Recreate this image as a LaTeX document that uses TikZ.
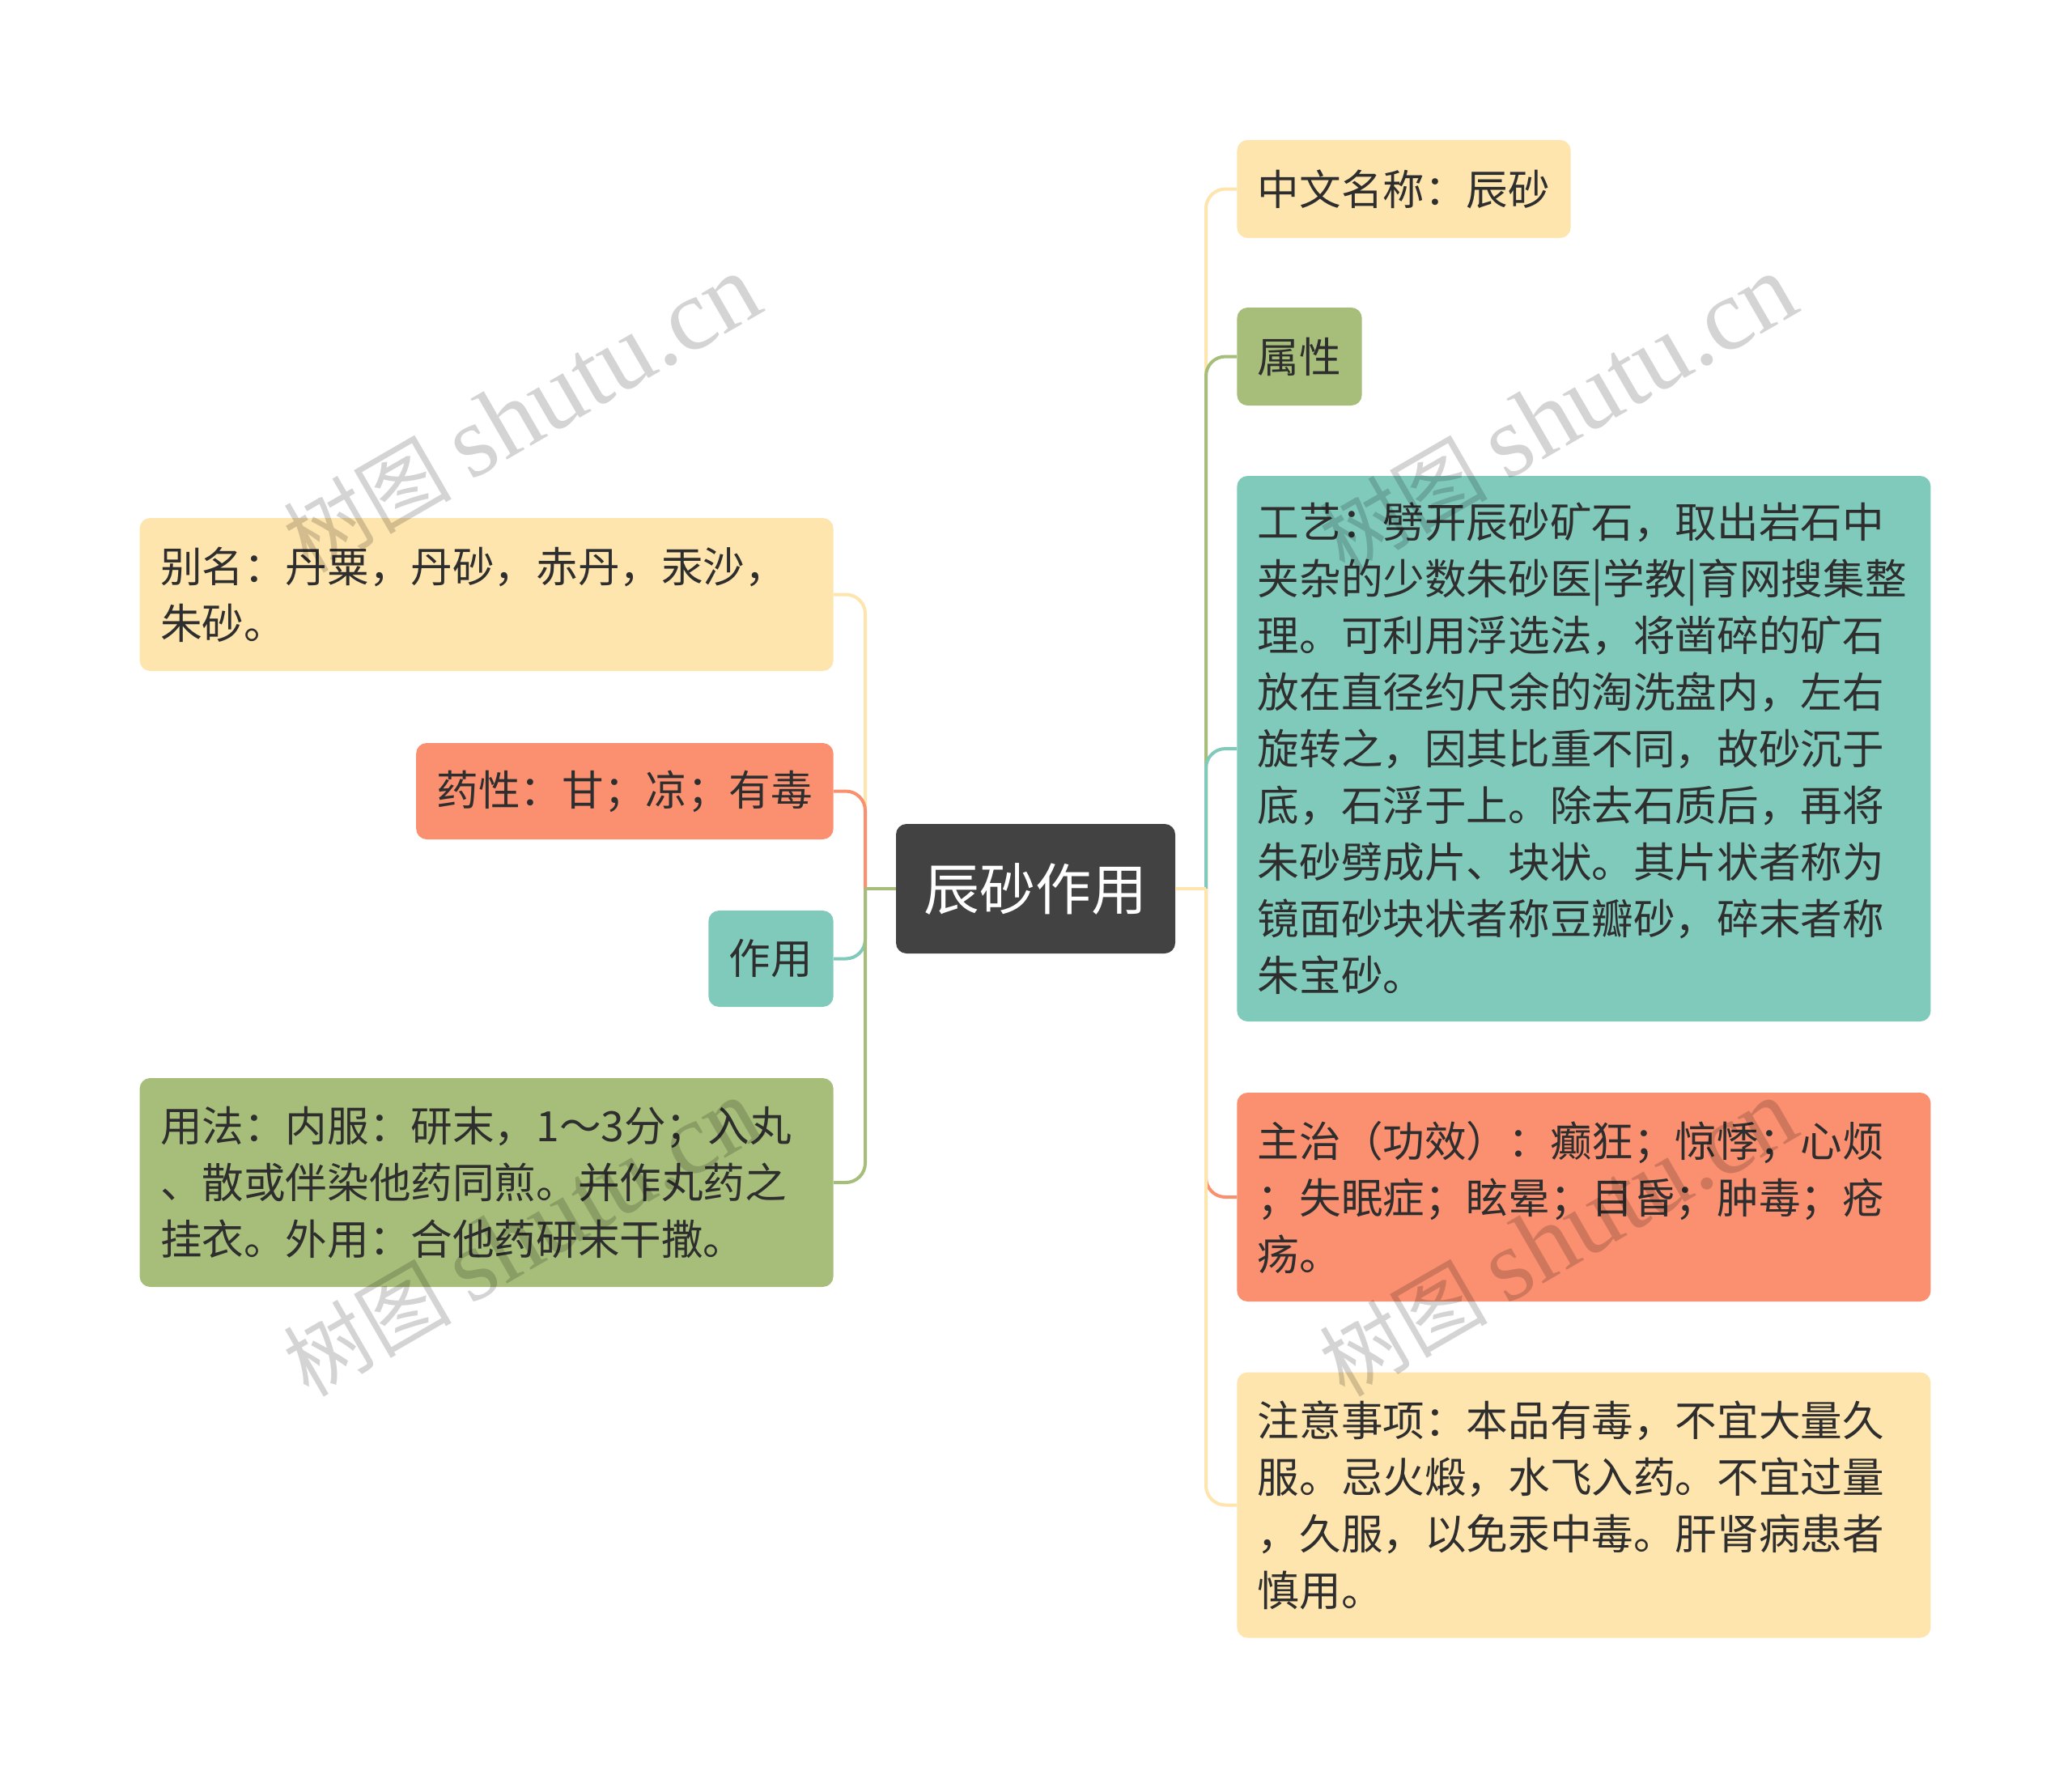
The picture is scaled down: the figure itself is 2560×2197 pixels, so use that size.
\documentclass[tikz,border=0pt]{standalone}
\usepackage{fontspec}
\setmainfont{Noto Sans CJK SC}
\newfontfamily\wmserif{Liberation Serif}
\definecolor{yel}{HTML}{FEE4AD}
\definecolor{grn}{HTML}{A6BE7A}
\definecolor{tea}{HTML}{80CABC}
\definecolor{org}{HTML}{FA9070}
\definecolor{rootc}{HTML}{424242}
\definecolor{txt}{HTML}{2E2E2E}
\begin{document}
\begin{tikzpicture}[x=0.5pt,y=-0.5pt,
  box/.style={rounded corners=6.5pt, inner xsep=12.75pt, inner ysep=0pt, text=txt, font=\fontsize{25.8}{35}\selectfont},
  wide/.style={box, text width=403pt, align=left},
  conn/.style={line width=2pt, rounded corners=12pt},
  stem/.style={line width=2pt},
  wm/.style={rotate=30, text=black, text opacity=0.17, inner sep=0pt}
]
\useasboundingbox (0,0) rectangle (2560,2197);
\fill[white] (0,0) rectangle (2560,2197);

% root
\node[fill=rootc, rounded corners=6.5pt, minimum width=172.5pt, minimum height=80pt, inner sep=0pt, text=white, font=\fontsize{34.5}{40}\selectfont] (root) at (1279.5,1098) {辰砂作用};

% right children
\node[box, fill=yel, anchor=west, minimum height=60.5pt] (n1) at (1528,233.5) {中文名称：辰砂};
\node[box, fill=grn, anchor=west, minimum height=60.5pt] (n2) at (1528,440.5) {属性};
\node[wide, fill=tea, anchor=west, minimum height=337pt] (n3) at (1528,925) {工艺：劈开辰砂矿石，取出岩石中\\夹杂的少数朱砂医|学教|育网搜集整\\理。可利用浮选法，将凿碎的矿石\\放在直径约尺余的淘洗盘内，左右\\旋转之，因其比重不同，故砂沉于\\底，石浮于上。除去石质后，再将\\朱砂劈成片、块状。其片状者称为\\镜面砂块状者称豆瓣砂，碎末者称\\朱宝砂。};
\node[wide, fill=org, anchor=west, minimum height=129pt] (n4) at (1528,1479) {主治（功效）：癫狂；惊悸；心烦\\；失眠症；眩晕；目昏；肿毒；疮\\疡。};
\node[wide, fill=yel, anchor=west, minimum height=164pt] (n5) at (1528,1859.5) {注意事项：本品有毒，不宜大量久\\服。忌火煅，水飞入药。不宜过量\\，久服，以免汞中毒。肝肾病患者\\慎用。};

% left children
\node[wide, fill=yel, anchor=east, minimum height=94.5pt] (l1) at (1030,734.5) {别名：丹粟，丹砂，赤丹，汞沙，\\朱砂。};
\node[box, fill=org, anchor=east, minimum height=59.5pt] (l2) at (1030,977.5) {药性：甘；凉；有毒};
\node[box, fill=tea, anchor=east, minimum height=59.5pt] (l3) at (1030,1184.5) {作用};
\node[wide, fill=grn, anchor=east, minimum height=129pt] (l4) at (1030,1461) {用法：内服：研末，1～3分；入丸\\、散或伴染他药同煎。并作丸药之\\挂衣。外用：合他药研末干撒。};

% junctions
\coordinate (Lj) at (1069,1098);
\coordinate (Rj) at (1490,1098);

% left connectors
\draw[conn, yel] (Lj) |- (l1.east);
\draw[conn, org] (Lj) |- (l2.east);
\draw[conn, tea] (Lj) |- (l3.east);
\draw[conn, grn] (Lj) |- (l4.east);
\draw[stem, grn] (root.west) -- (Lj);

% right connectors
\draw[conn, yel] (Rj) |- (n1.west);
\draw[conn, grn] (Rj) |- (n2.west);
\draw[conn, tea] (Rj) |- (n3.west);
\draw[conn, org] (Rj) |- (n4.west);
\draw[conn, yel] (Rj) |- (n5.west);
\draw[stem, yel] (root.east) -- (Rj);

% watermarks
\node[wm] (w1) at (645,512) {\fontsize{52}{52}\selectfont 树图 \wmserif\fontsize{63}{63}\selectfont shutu.cn};
\node[wm] (w2) at (1925,512) {\fontsize{52}{52}\selectfont 树图 \wmserif\fontsize{63}{63}\selectfont shutu.cn};
\node[wm] (w3) at (645,1530) {\fontsize{52}{52}\selectfont 树图 \wmserif\fontsize{63}{63}\selectfont shutu.cn};
\node[wm] (w4) at (1925,1530) {\fontsize{52}{52}\selectfont 树图 \wmserif\fontsize{63}{63}\selectfont shutu.cn};
\end{tikzpicture}
\end{document}
